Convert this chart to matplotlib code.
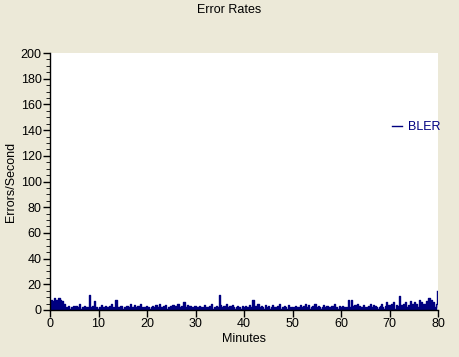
import numpy as np
import matplotlib.pyplot as plt
from matplotlib.ticker import MultipleLocator

# BLER samples every 0.25 minute, 0 .. 79.75
bler = [
    5, 8, 7, 9, 6, 8, 4, 9, 8, 3, 7, 5, 2, 1, 2, 3, 1, 2, 1, 3,
    1, 3, 2, 1, 5, 1, 2, 1, 3, 1, 2, 1, 12, 2, 1, 3, 7, 1, 2, 1,
    2, 1, 4, 1, 2, 3, 1, 2, 1, 3, 5, 2, 1, 2, 8, 1, 2, 1, 3, 1,
    1, 2, 1, 3, 1, 2, 5, 1, 2, 4, 1, 2, 3, 1, 5, 2, 1, 2, 1, 3,
    1, 2, 1, 2, 3, 1, 2, 4, 1, 2, 5, 2, 1, 3, 2, 4, 1, 2, 1, 3,
    2, 4, 1, 3, 2, 5, 1, 2, 3, 2, 6, 1, 2, 4, 1, 3, 2, 1, 2, 3,
    1, 2, 1, 3, 2, 1, 2, 4, 1, 2, 1, 3, 2, 5, 1, 2, 1, 3, 2, 12,
    4, 2, 1, 3, 2, 5, 1, 2, 3, 1, 4, 2, 1, 2, 3, 1, 2, 1, 3, 2,
    1, 3, 2, 1, 4, 2, 1, 8, 2, 3, 1, 5, 2, 1, 3, 2, 1, 4, 2, 1,
    3, 1, 2, 4, 1, 2, 1, 3, 2, 5, 1, 2, 1, 3, 2, 1, 4, 2, 1, 2,
    1, 2, 3, 1, 2, 1, 4, 2, 1, 3, 5, 1, 2, 4, 1, 2, 3, 1, 5, 2,
    1, 3, 2, 1, 2, 4, 1, 2, 3, 1, 2, 1, 3, 2, 5, 1, 2, 1, 3, 2,
    1, 3, 2, 1, 2, 1, 8, 2, 8, 3, 1, 4, 2, 5, 1, 3, 2, 1, 4, 2,
    1, 2, 3, 1, 5, 2, 4, 1, 3, 2, 1, 2, 3, 5, 2, 1, 3, 6, 2, 4,
    3, 5, 2, 6, 1, 4, 3, 2, 11, 4, 2, 5, 3, 6, 2, 4, 3, 7, 5, 3,
    6, 3, 5, 2, 8, 4, 6, 3, 5, 4, 7, 2, 9, 5, 8, 3, 6, 2, 5, 15,
]
minutes = np.arange(len(bler)) * 0.25

bg = '#ECE9D8'
navy = '#000080'
plt.rcParams['font.family'] = ['Liberation Sans', 'DejaVu Sans']

fig = plt.figure(figsize=(4.59, 3.57), dpi=100, facecolor=bg)
ax = fig.add_axes([50/459, 1 - 310/357, 388/459, 257/357])
ax.set_facecolor('white')

ax.fill_between(minutes, bler, step='post', color=navy, lw=0)
ax.plot(minutes, bler, color=navy, lw=1, drawstyle='steps-post', label='BLER')

ax.set_xlim(0, 80)
ax.set_ylim(0, 200)
ax.xaxis.set_major_locator(MultipleLocator(10))
ax.yaxis.set_major_locator(MultipleLocator(20))
ax.yaxis.set_minor_locator(MultipleLocator(5))
ax.tick_params(axis='both', labelsize=9, length=5, width=1, color='black', pad=1)
ax.tick_params(axis='y', which='minor', length=3)

for s in ['top', 'right']:
    ax.spines[s].set_visible(False)
for s in ['left', 'bottom']:
    ax.spines[s].set_linewidth(1)

ax.set_xlabel('Minutes', fontsize=9, labelpad=2)
ax.set_ylabel('Errors/Second', fontsize=9, labelpad=3)
fig.text(0.5, 1 - 10/357, 'Error Rates', ha='center', va='center', fontsize=9)

leg = ax.legend(loc='center right', bbox_to_anchor=(1.035, 0.712), frameon=False,
                handlelength=0.8, handletextpad=0.5, fontsize=9, labelcolor=navy)

fig.savefig('out.png', dpi=100, facecolor=bg)
